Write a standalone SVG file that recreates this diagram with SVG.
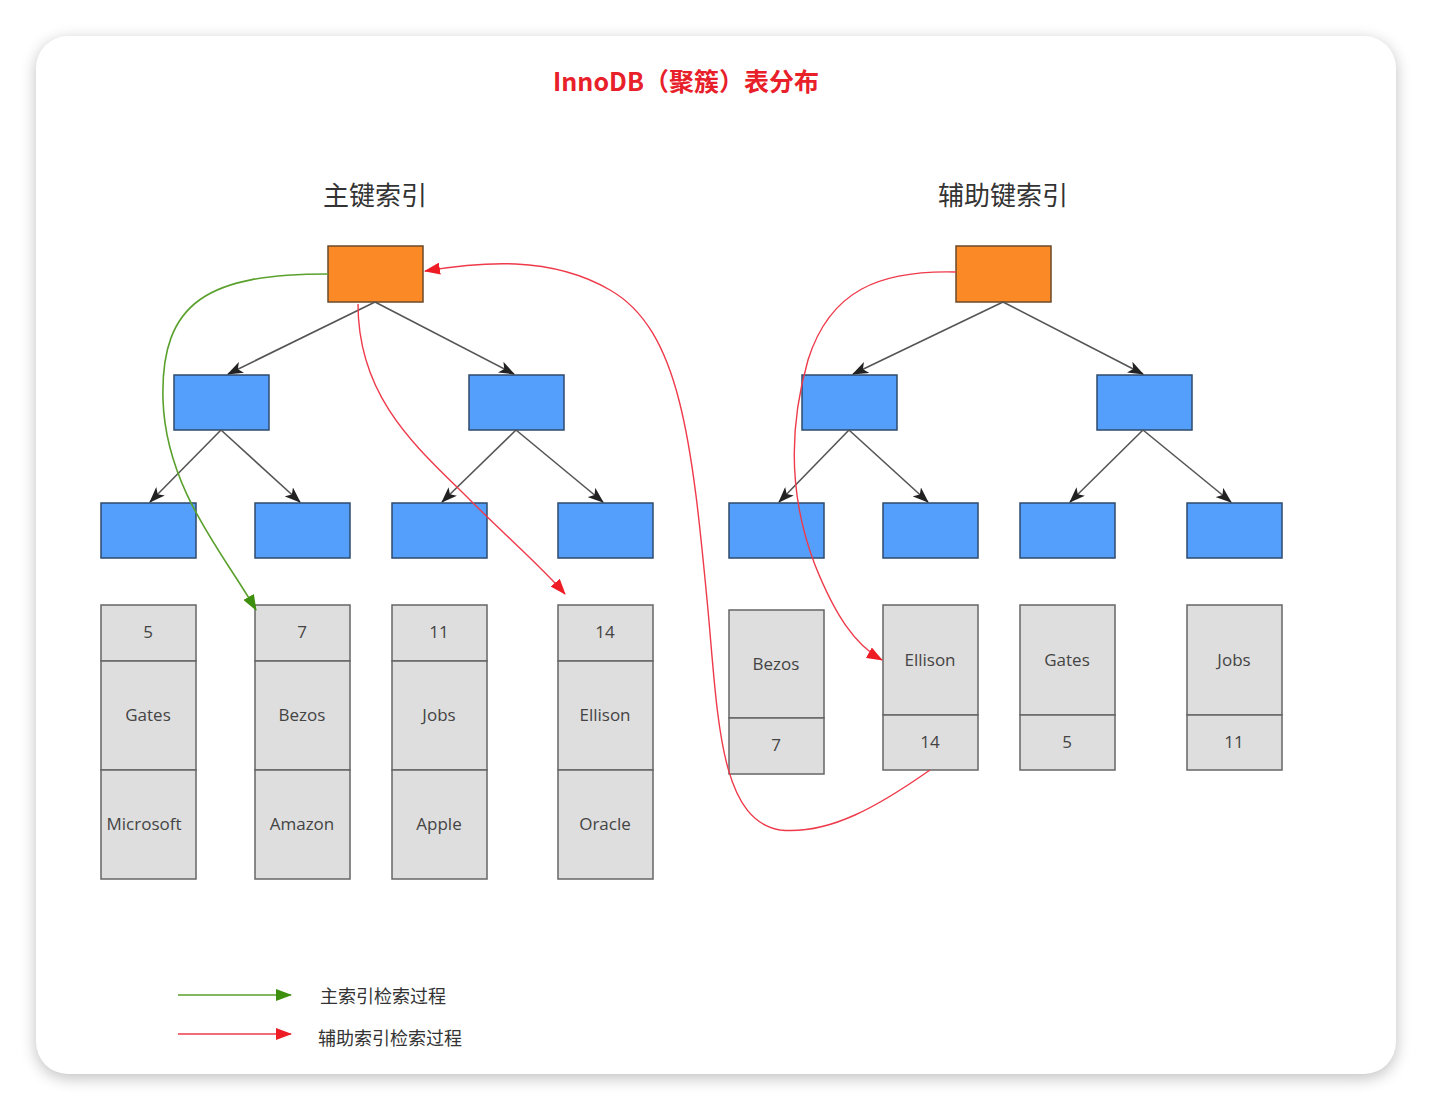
<svg xmlns="http://www.w3.org/2000/svg" width="1432" height="1110" viewBox="0 0 1432 1110">
<defs>
<filter id="sh" x="-5%" y="-5%" width="110%" height="110%"><feGaussianBlur stdDeviation="8"/></filter>
<marker id="ab" markerWidth="16" markerHeight="12" refX="15" refY="6" orient="auto" markerUnits="userSpaceOnUse"><path d="M0,0 L16,6 L0,12 L4,6 Z" fill="#222"/></marker>
<marker id="ag" markerWidth="16" markerHeight="12" refX="15" refY="6" orient="auto" markerUnits="userSpaceOnUse"><path d="M0,0 L16,6 L0,12 Z" fill="#3f8f0f"/></marker>
<marker id="ar" markerWidth="16" markerHeight="12" refX="15" refY="6" orient="auto" markerUnits="userSpaceOnUse"><path d="M0,0 L16,6 L0,12 Z" fill="#ee1c25"/></marker>
</defs>
<style>
.org{fill:#fb8a26;stroke:#6b4a2a;stroke-width:1.5}
.blu{fill:#559ffc;stroke:#2e4a6b;stroke-width:1.5}
.cel{fill:#dedede;stroke:#666;stroke-width:1.5}
.t{font-family:"Open Sans","Noto Sans",sans-serif;font-size:17px;fill:#444;text-anchor:middle}
.h{font-family:"Noto Sans CJK SC",sans-serif;font-size:26px;fill:#333;text-anchor:middle}
.lg{font-family:"Noto Sans CJK SC",sans-serif;font-size:18px;fill:#333}
.e{stroke:#555;stroke-width:1.6;fill:none;marker-end:url(#ab)}
.g{stroke:#5aa02c;stroke-width:1.6;fill:none;marker-end:url(#ag)}
.r{stroke:#ee3a4a;stroke-width:1.4;fill:none;marker-end:url(#ar)}
</style>
<rect width="1432" height="1110" fill="#ffffff"/>
<rect x="36" y="40" width="1360" height="1038" rx="32" fill="#000" opacity="0.25" filter="url(#sh)"/>
<rect x="36" y="36" width="1360" height="1038" rx="32" fill="#ffffff"/>
<text x="686" y="91" font-family="'Noto Sans CJK SC',sans-serif" font-size="25" font-weight="bold" fill="#e8202a" text-anchor="middle">InnoDB（聚簇）表分布</text>
<text class="h" x="375" y="205">主键索引</text>
<text class="h" x="1003" y="205">辅助键索引</text>
<g id="pk-root"><rect class="org" x="328" y="246" width="95" height="56"/></g>
<g id="pk-l2a"><rect class="blu" x="174" y="375" width="95" height="55"/></g>
<g id="pk-l2b"><rect class="blu" x="469" y="375" width="95" height="55"/></g>
<g id="pk-l3a"><rect class="blu" x="101" y="503" width="95" height="55"/></g>
<g id="pk-l3b"><rect class="blu" x="255" y="503" width="95" height="55"/></g>
<g id="pk-l3c"><rect class="blu" x="392" y="503" width="95" height="55"/></g>
<g id="pk-l3d"><rect class="blu" x="558" y="503" width="95" height="55"/></g>
<g id="sk-root"><rect class="org" x="956" y="246" width="95" height="56"/></g>
<g id="sk-l2a"><rect class="blu" x="802" y="375" width="95" height="55"/></g>
<g id="sk-l2b"><rect class="blu" x="1097" y="375" width="95" height="55"/></g>
<g id="sk-l3a"><rect class="blu" x="729" y="503" width="95" height="55"/></g>
<g id="sk-l3b"><rect class="blu" x="883" y="503" width="95" height="55"/></g>
<g id="sk-l3c"><rect class="blu" x="1020" y="503" width="95" height="55"/></g>
<g id="sk-l3d"><rect class="blu" x="1187" y="503" width="95" height="55"/></g>
<g id="row5">
<rect class="cel" x="101" y="605" width="95" height="56"/><rect class="cel" x="101" y="661" width="95" height="109"/><rect class="cel" x="101" y="770" width="95" height="109"/>
<text class="t" x="148" y="638">5</text><text class="t" x="148" y="721">Gates</text><text class="t" x="144" y="830">Microsoft</text>
</g>
<g id="row7">
<rect class="cel" x="255" y="605" width="95" height="56"/><rect class="cel" x="255" y="661" width="95" height="109"/><rect class="cel" x="255" y="770" width="95" height="109"/>
<text class="t" x="302" y="638">7</text><text class="t" x="302" y="721">Bezos</text><text class="t" x="302" y="830">Amazon</text>
</g>
<g id="row11">
<rect class="cel" x="392" y="605" width="95" height="56"/><rect class="cel" x="392" y="661" width="95" height="109"/><rect class="cel" x="392" y="770" width="95" height="109"/>
<text class="t" x="439" y="638">11</text><text class="t" x="439" y="721">Jobs</text><text class="t" x="439" y="830">Apple</text>
</g>
<g id="row14">
<rect class="cel" x="558" y="605" width="95" height="56"/><rect class="cel" x="558" y="661" width="95" height="109"/><rect class="cel" x="558" y="770" width="95" height="109"/>
<text class="t" x="605" y="638">14</text><text class="t" x="605" y="721">Ellison</text><text class="t" x="605" y="830">Oracle</text>
</g>
<g id="sk-bezos">
<rect class="cel" x="729" y="610" width="95" height="108"/><rect class="cel" x="729" y="718" width="95" height="56"/>
<text class="t" x="776" y="670">Bezos</text><text class="t" x="776" y="751">7</text>
</g>
<g id="sk-ellison">
<rect class="cel" x="883" y="605" width="95" height="110"/><rect class="cel" x="883" y="715" width="95" height="55"/>
<text class="t" x="930" y="666">Ellison</text><text class="t" x="930" y="748">14</text>
</g>
<g id="sk-gates">
<rect class="cel" x="1020" y="605" width="95" height="110"/><rect class="cel" x="1020" y="715" width="95" height="55"/>
<text class="t" x="1067" y="666">Gates</text><text class="t" x="1067" y="748">5</text>
</g>
<g id="sk-jobs">
<rect class="cel" x="1187" y="605" width="95" height="110"/><rect class="cel" x="1187" y="715" width="95" height="55"/>
<text class="t" x="1234" y="666">Jobs</text><text class="t" x="1234" y="748">11</text>
</g>
<g id="legend">
<text class="lg" x="320" y="1003">主索引检索过程</text>
<text class="lg" x="318" y="1045">辅助索引检索过程</text>
</g>
<g id="connectors">
<path class="e" d="M375,302 L228,374"/>
<path class="e" d="M375,302 L514,374"/>
<path class="e" d="M221,430 L150,502"/>
<path class="e" d="M221,430 L300,502"/>
<path class="e" d="M516,430 L442,502"/>
<path class="e" d="M516,430 L603,502"/>
<path class="e" d="M1003,302 L853,374"/>
<path class="e" d="M1003,302 L1143,374"/>
<path class="e" d="M849,430 L779,502"/>
<path class="e" d="M849,430 L928,502"/>
<path class="e" d="M1143,430 L1070,502"/>
<path class="e" d="M1143,430 L1231,502"/>
<path class="g" d="M328,274 C210,274 160,300 163,400 C166,490 225,555 256,610"/>
<path class="r" d="M358,304 C358,400 420,450 470,500 C510,540 540,565 565,594"/>
<path class="r" d="M930,770 C880,805 830,835 780,830 C720,820 718,720 708,610 C692,440 680,330 610,290 C550,255 480,262 425,271"/>
<path class="r" d="M956,272 C880,270 830,290 808,360 C788,430 790,500 815,565 C835,615 855,645 882,660"/>
<path class="g" d="M178,995 L291,995"/>
<path class="r" d="M178,1034 L291,1034"/>
</g>
</svg>
